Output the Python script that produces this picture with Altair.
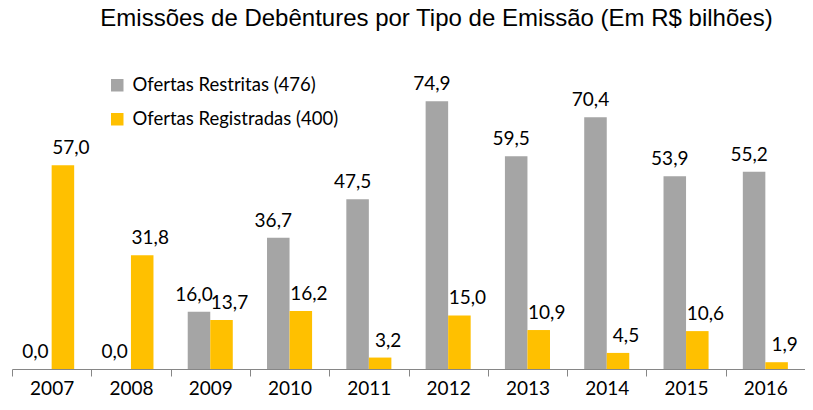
import altair as alt
import pandas as pd

years = ["2007", "2008", "2009", "2010", "2011", "2012", "2013", "2014", "2015", "2016"]
restritas = [0.0, 0.0, 16.0, 36.7, 47.5, 74.9, 59.5, 70.4, 53.9, 55.2]
registradas = [57.0, 31.8, 13.7, 16.2, 3.2, 15.0, 10.9, 4.5, 10.6, 1.9]
series = ["Ofertas Restritas (476)", "Ofertas Registradas (400)"]
colors = ["#A5A5A5", "#FFC000"]

rows = []
for i, y in enumerate(years):
    for s, vals in zip(series, [restritas, registradas]):
        v = vals[i]
        rows.append({"ano": y, "serie": s, "valor": v, "rotulo": f"{v:.1f}".replace(".", ",")})
df = pd.DataFrame(rows)

x = alt.X("ano:N", sort=years, title=None,
          scale=alt.Scale(paddingInner=0, paddingOuter=0),
          axis=alt.Axis(labelAngle=0, labelFont="Lato", labelFontSize=19, labelColor="#000000",
                        domainColor="#868686", tickColor="#868686", tickSize=7,
                        tickBand="extent", labelPadding=3, grid=False))
xo = alt.XOffset("serie:N", sort=series,
                 scale=alt.Scale(domain=series, paddingInner=0, paddingOuter=0.76))
y = alt.Y("valor:Q", scale=alt.Scale(domain=[0, 80], nice=False), axis=None)

base = alt.Chart(df)

bars = base.mark_bar().encode(
    x=x, xOffset=xo, y=y,
    color=alt.Color("serie:N", sort=series,
                    scale=alt.Scale(domain=series, range=colors),
                    legend=alt.Legend(orient="none", legendX=96, legendY=-7, title=None,
                                      symbolType="square", symbolSize=156, symbolStrokeWidth=0,
                                      labelFont="Lato", labelFontSize=18.5, labelColor="#000000",
                                      labelLimit=0, rowPadding=15, labelOffset=6)),
)

text_style = dict(dy=-11, baseline="alphabetic", font="Lato", fontSize=19, color="#000000")

labels_r = base.transform_filter(alt.datum.serie == series[0]).mark_text(dx=-5, **text_style).encode(
    x=x, xOffset=xo, y=y, text="rotulo:N"
)
labels_g = base.transform_filter(alt.datum.serie == series[1]).mark_text(dx=8, **text_style).encode(
    x=x, xOffset=xo, y=y, text="rotulo:N"
)

chart = alt.layer(bars, labels_r, labels_g).properties(
    width=793, height=286,
    title=alt.TitleParams("Emissões de Debêntures por Tipo de Emissão (Em R$ bilhões)",
                          font="Liberation Sans", fontSize=24, fontWeight="normal", color="#000000",
                          anchor="middle", dx=28, offset=25, baseline="alphabetic"),
    autosize=alt.AutoSizeParams(type="none"),
    padding={"left": 4, "top": 75, "right": 0, "bottom": 30},
).configure_view(stroke=None)

chart.save("out.html", embed_options={"renderer": "svg", "actions": False})
